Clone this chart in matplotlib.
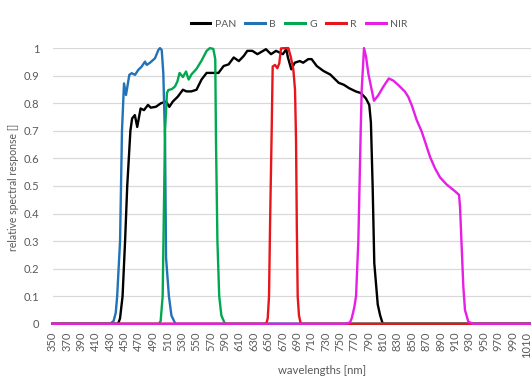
import numpy as np
import matplotlib
matplotlib.use("Agg")
import matplotlib.pyplot as plt

plt.rcParams['font.family'] = ['Lato', 'DejaVu Sans']

# ---------------- data ----------------
pan_wl = [350, 440, 442, 444, 447.5, 451, 454, 458.4, 460.8, 464.6, 467.9, 472.6, 477.3,
          482.9, 486.7, 493.8, 500.9, 507.9, 512.6, 517.4, 524.4, 531.5, 536.2, 543.3,
          550.4, 557.4, 564.5, 581, 588.1, 595.1, 602.2, 609.3, 616.3, 621.1, 628.1,
          635.2, 647, 654.1, 661.1, 670.6, 675.3, 677.6, 682.3, 687.1, 694.1, 698.8,
          705.9, 710.6, 717.7, 727.1, 736.6, 748.3, 755.4, 762.5, 771.9, 779, 786,
          790.8, 793.1, 795.5, 797.8, 802.6, 806, 809.6, 815, 1050]
pan_val = [0, 0, 0.005, 0.02, 0.1, 0.3, 0.5, 0.70, 0.745, 0.757, 0.714, 0.781, 0.775,
           0.794, 0.784, 0.787, 0.80, 0.806, 0.787, 0.806, 0.824, 0.849, 0.843, 0.843,
           0.849, 0.886, 0.91, 0.91, 0.935, 0.941, 0.966, 0.953, 0.972, 0.99, 0.99,
           0.978, 0.996, 0.978, 0.99, 0.978, 0.996, 0.966, 0.923, 0.947, 0.953, 0.947,
           0.96, 0.96, 0.935, 0.917, 0.904, 0.874, 0.867, 0.855, 0.843, 0.837, 0.818,
           0.794, 0.73, 0.5, 0.22, 0.07, 0.03, 0.0, 0, 0]

b_wl = [350, 430, 435, 438, 440, 444, 446.7, 449.5, 452.3, 456.9, 460.2, 464.8, 469.4,
        474.1, 478.7, 481.1, 485.7, 492.6, 497.3, 499.6, 502, 504.2, 506.6, 508, 512,
        515.5, 521, 1050]
b_val = [0, 0, 0.01, 0.04, 0.1, 0.3, 0.7, 0.872, 0.830, 0.903, 0.909, 0.903, 0.921,
         0.933, 0.951, 0.939, 0.947, 0.963, 0.993, 1.0, 0.993, 0.909, 0.667, 0.24, 0.1,
         0.03, 0, 0]

g_wl = [350, 498, 500.5, 503.3, 506.6, 509.3, 511.2, 515.9, 520.5, 523.8, 526.8, 531.5,
        535.8, 539.5, 543.5, 550.5, 557.5, 564.5, 569, 573.8, 576.5, 577.5, 579.5, 582,
        585, 590, 1050]
g_val = [0, 0, 0.01, 0.1, 0.7, 0.837, 0.848, 0.851, 0.861, 0.879, 0.91, 0.895,
         0.915, 0.886, 0.905, 0.925, 0.955, 0.99, 1.0, 0.997, 0.96, 0.667, 0.3, 0.1,
         0.03, 0, 0]

r_wl = [350, 646, 648, 649.5, 651.3, 653, 655, 656.4, 659.6, 662.9, 665.6, 668, 675.9,
        678.2, 681.5, 685.2, 687.5, 688.9, 690, 691.2, 693, 695.5, 1050]
r_val = [0, 0, 0.005, 0.02, 0.1, 0.4, 0.7, 0.933, 0.939, 0.927, 0.945, 0.999, 1.0,
         1.0, 0.969, 0.921, 0.848, 0.667, 0.35, 0.1, 0.03, 0, 0]

nir_wl = [350, 758, 764, 766.4, 770, 772.4, 775.6, 778.9, 780.3, 783.5, 786.3, 789.5,
          794.2, 797.4, 803.4, 810.4, 818, 824.3, 831.3, 840.5, 845.1, 849.9, 856.8,
          863.8, 868.4, 875.3, 882.3, 889.3, 898.6, 907.7, 915.7, 917.1, 919.4, 921.7,
          924, 928.6, 935, 1050]
nir_val = [0, 0, 0.005, 0.02, 0.06, 0.1, 0.3, 0.7, 0.85, 1.0, 0.969, 0.908,
           0.848, 0.809, 0.829, 0.860, 0.890, 0.882, 0.866, 0.842, 0.823, 0.793, 0.739,
           0.697, 0.661, 0.606, 0.564, 0.531, 0.505, 0.486, 0.468, 0.425, 0.28, 0.135,
           0.05, 0.008, 0, 0]

series_names = ['PAN', 'B', 'G', 'R', 'NIR']
series_colors = ['#000000', '#2272B8', '#00A84F', '#E8161B', '#E61EE6']

x_ticks = list(range(350, 1011, 20))
y_ticks = [0, 0.1, 0.2, 0.3, 0.4, 0.5, 0.6, 0.7, 0.8, 0.9, 1.0]
y_tick_labels = ['0', '0.1', '0.2', '0.3', '0.4', '0.5', '0.6', '0.7', '0.8', '0.9', '1']

# ---------------- figure ----------------
W, H = 531, 382
fig = plt.figure(figsize=(W / 100, H / 100), dpi=100)
left, bottom, top = 52.5, 323.8, 48.1
ax = fig.add_axes([left / W, 1 - bottom / H, 1 - left / W, (bottom - top) / H])

data = [(pan_wl, pan_val), (b_wl, b_val), (g_wl, g_val), (r_wl, r_val), (nir_wl, nir_val)]
for (wl, val), name, col in zip(data, series_names, series_colors):
    ax.plot(wl, val, color=col, lw=1.7, label=name, clip_on=False,
            solid_joinstyle='round', zorder=3)

ax.set_xlim(350, 350 + (W - left) / 0.7186)
ax.set_ylim(0, 1)
ax.set_yticks(y_ticks)
ax.set_yticklabels(y_tick_labels)
ax.set_xticks(x_ticks)
ax.set_xticklabels([str(t) for t in x_ticks], rotation=90)
ax.yaxis.grid(True, color='#D9D9D9', lw=0.9)
ax.set_axisbelow(True)
for s in ax.spines.values():
    s.set_visible(False)
ax.tick_params(axis='both', length=0, colors='#595959', labelsize=8)
ax.tick_params(axis='y', pad=9.5)
ax.tick_params(axis='x', pad=5.7)

fig.text(322 / W, 1 - 370 / H, 'wavelengths [nm]', ha='center', va='center',
         fontsize=8.2, color='#595959')
fig.text(13.5 / W, 1 - 187 / H, 'relative spectral response []', ha='center',
         va='center', rotation=90, fontsize=7.6, color='#595959')

leg = ax.legend(loc='center', bbox_to_anchor=(299 / W, 1 - 24.4 / H),
                bbox_transform=fig.transFigure, ncol=5, frameon=False,
                handlelength=1.9, handletextpad=0.4, columnspacing=0.9,
                fontsize=7.5, borderaxespad=0)
for t in leg.get_texts():
    t.set_color('#595959')
for l in leg.get_lines():
    l.set_linewidth(2.2)

fig.savefig('out.png', dpi=100)
